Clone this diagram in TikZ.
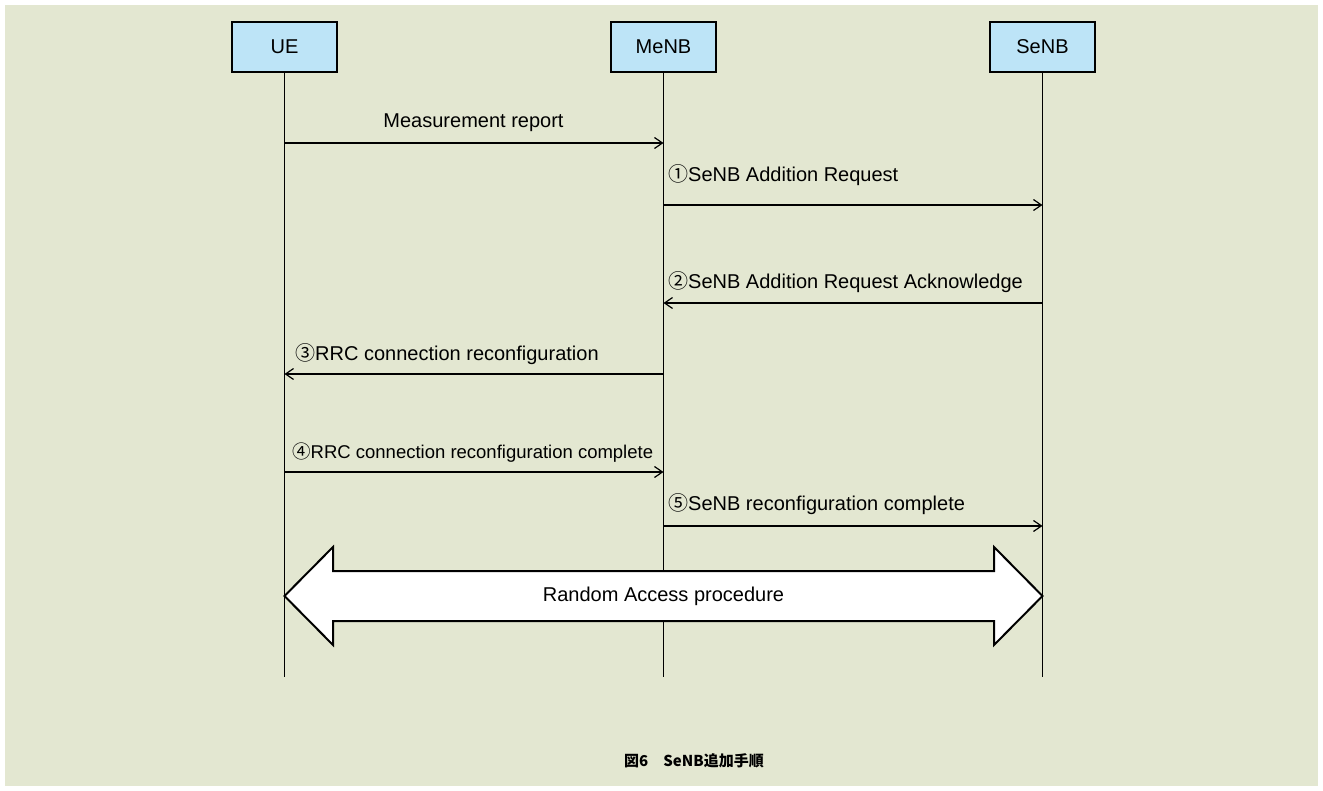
\documentclass[tikz,border=0pt]{standalone}
\usepackage{fontspec}
\setmainfont{Liberation Sans}
\newfontfamily\jpfont{Noto Sans CJK JP}
\usetikzlibrary{arrows.meta,calc,positioning}
\definecolor{paneltint}{RGB}{227,231,209}
\definecolor{headblue}{RGB}{189,228,247}
\newcommand{\stepno}[1]{{\jpfont #1}}

\begin{document}
\begin{tikzpicture}[x=1pt,y=-1pt,>={Straight Barb[length=8pt,width=11pt]},
    font=\fontsize{20}{24}\selectfont,
    entity/.style={draw,line width=2pt,fill=headblue,minimum width=105pt,minimum height=50pt,inner sep=0pt},
    lifeline/.style={line width=1.8pt},
    msg/.style={->,line width=1.2pt},
    lbl/.style={anchor=base west,inner sep=0pt}]
        \useasboundingbox (0,0) rectangle (1323,791);
        \fill[paneltint] (5,5) rectangle (1318,786);
        % entities and lifelines
        \node[entity] (ue) at (284.5,47) {UE};
        \node[entity] (menb) at (663.5,47) {MeNB};
        \node[entity] (senb) at (1042.5,47) {SeNB};
        \coordinate (ue-end) at (ue |- 0,677);
        \coordinate (menb-end) at (menb |- 0,677);
        \coordinate (senb-end) at (senb |- 0,677);
        \draw[lifeline] (ue) -- (ue-end);
        \draw[lifeline] (menb) -- (menb-end);
        \draw[lifeline] (senb) -- (senb-end);
        % messages
        \draw[msg] (ue |- 0,143) -- (menb |- 0,143);
        \node[anchor=base,inner sep=0pt] (meas) at (473.5,128) {Measurement report};
        \draw[msg] (menb |- 0,205) -- (senb |- 0,205);
        \node[lbl] (addreq) at (668,182) {\stepno{①}SeNB Addition Request};
        \draw[msg] (senb |- 0,303) -- (menb |- 0,303);
        \node[lbl] (addack) at (668,289) {\stepno{②}SeNB Addition Request Acknowledge};
        \draw[msg] (menb |- 0,374) -- (ue |- 0,374);
        \node[lbl] (rrc) at (295,361) {\stepno{③}RRC connection reconfiguration};
        \draw[msg] (ue |- 0,472) -- (menb |- 0,472);
        \node[lbl,font=\fontsize{18.5}{22}\selectfont] (rrcdone) at (292,458) {\stepno{④}RRC connection reconfiguration complete};
        \draw[msg] (menb |- 0,526) -- (senb |- 0,526);
        \node[lbl] (reconf) at (668,510) {\stepno{⑤}SeNB reconfiguration complete};
        % random access
        \draw[line width=2pt,fill=white,line join=miter] (ue |- 0,596) -- (333,547) -- (333,571) -- (994,571) -- (994,547)
            -- (senb |- 0,596) -- (994,645) -- (994,621) -- (333,621) -- (333,645) -- cycle;
        \node (rach) at (663.5,596) {Random Access procedure};
        \node[font=\jpfont\bfseries\fontsize{15}{18}\selectfont] (caption) at (694,761) {図6　SeNB追加手順};
      \end{tikzpicture}
\end{document}
